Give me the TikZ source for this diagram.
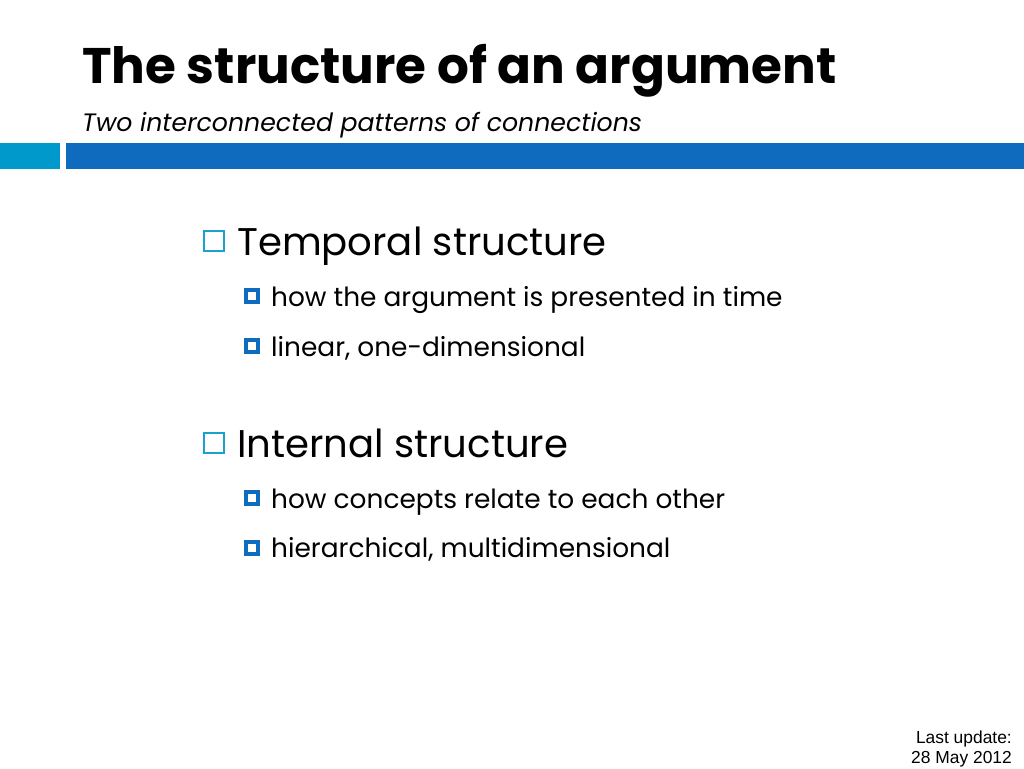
\documentclass[tikz,border=0pt]{standalone}
\usepackage{fontspec}
\setmainfont{Poppins}
\newfontfamily\arialfont{Liberation Sans}
\definecolor{lightbar}{HTML}{0099CC}
\definecolor{darkbar}{HTML}{0E6BBE}
\definecolor{boxblue}{HTML}{1BA1D0}
\begin{document}
\begin{tikzpicture}[x=1pt,y=-1pt,
  txt/.style={inner sep=0pt, anchor=base west, text=black},
  lvlone/.style={txt, font=\fontsize{38.6}{40}\selectfont},
  lvltwo/.style={txt, font=\fontsize{26.4}{30}\selectfont},
  openbox/.style={draw=boxblue, line width=2pt, minimum size=20pt, inner sep=0pt},
  fillbox/.style={draw=darkbar, line width=4.5pt, fill=white, minimum size=12pt, inner sep=0pt}]
\useasboundingbox (0,0) rectangle (1024,768);
\fill[white] (0,0) rectangle (1024,768);
% header bar
\fill[lightbar] (0,143) rectangle (60,169);
\fill[darkbar] (66,143) rectangle (1024,169);
% title
\node[txt, font=\fontsize{50}{56}\bfseries\selectfont] (title) at (82,83) {The structure of an argument};
\node[txt, font=\fontsize{25.2}{30}\itshape\selectfont] (sub) at (82,131) {Two interconnected patterns of connections};
% level one
\node[openbox] (b1) at (214,241) {};
\node[lvlone] (t1) at (237,255) {Temporal structure};
\node[fillbox] (b11) at (252,296) {};
\node[lvltwo] (t11) at (271,306) {how the argument is presented in time};
\node[fillbox] (b12) at (252,346) {};
\node[lvltwo] (t12) at (271,356) {linear, one-dimensional};
\node[openbox] (b2) at (214,443) {};
\node[lvlone] (t2) at (237,457) {Internal structure};
\node[fillbox] (b21) at (252,498) {};
\node[lvltwo] (t21) at (271,508) {how concepts relate to each other};
\node[fillbox] (b22) at (252,548) {};
\node[lvltwo] (t22) at (271,557) {hierarchical, multidimensional};
% footer
\node[inner sep=0pt, anchor=base east, align=right, font=\arialfont\fontsize{17.4}{20}\selectfont] (upd) at (1012,763) {Last update:\\28 May 2012};
\end{tikzpicture}
\end{document}
